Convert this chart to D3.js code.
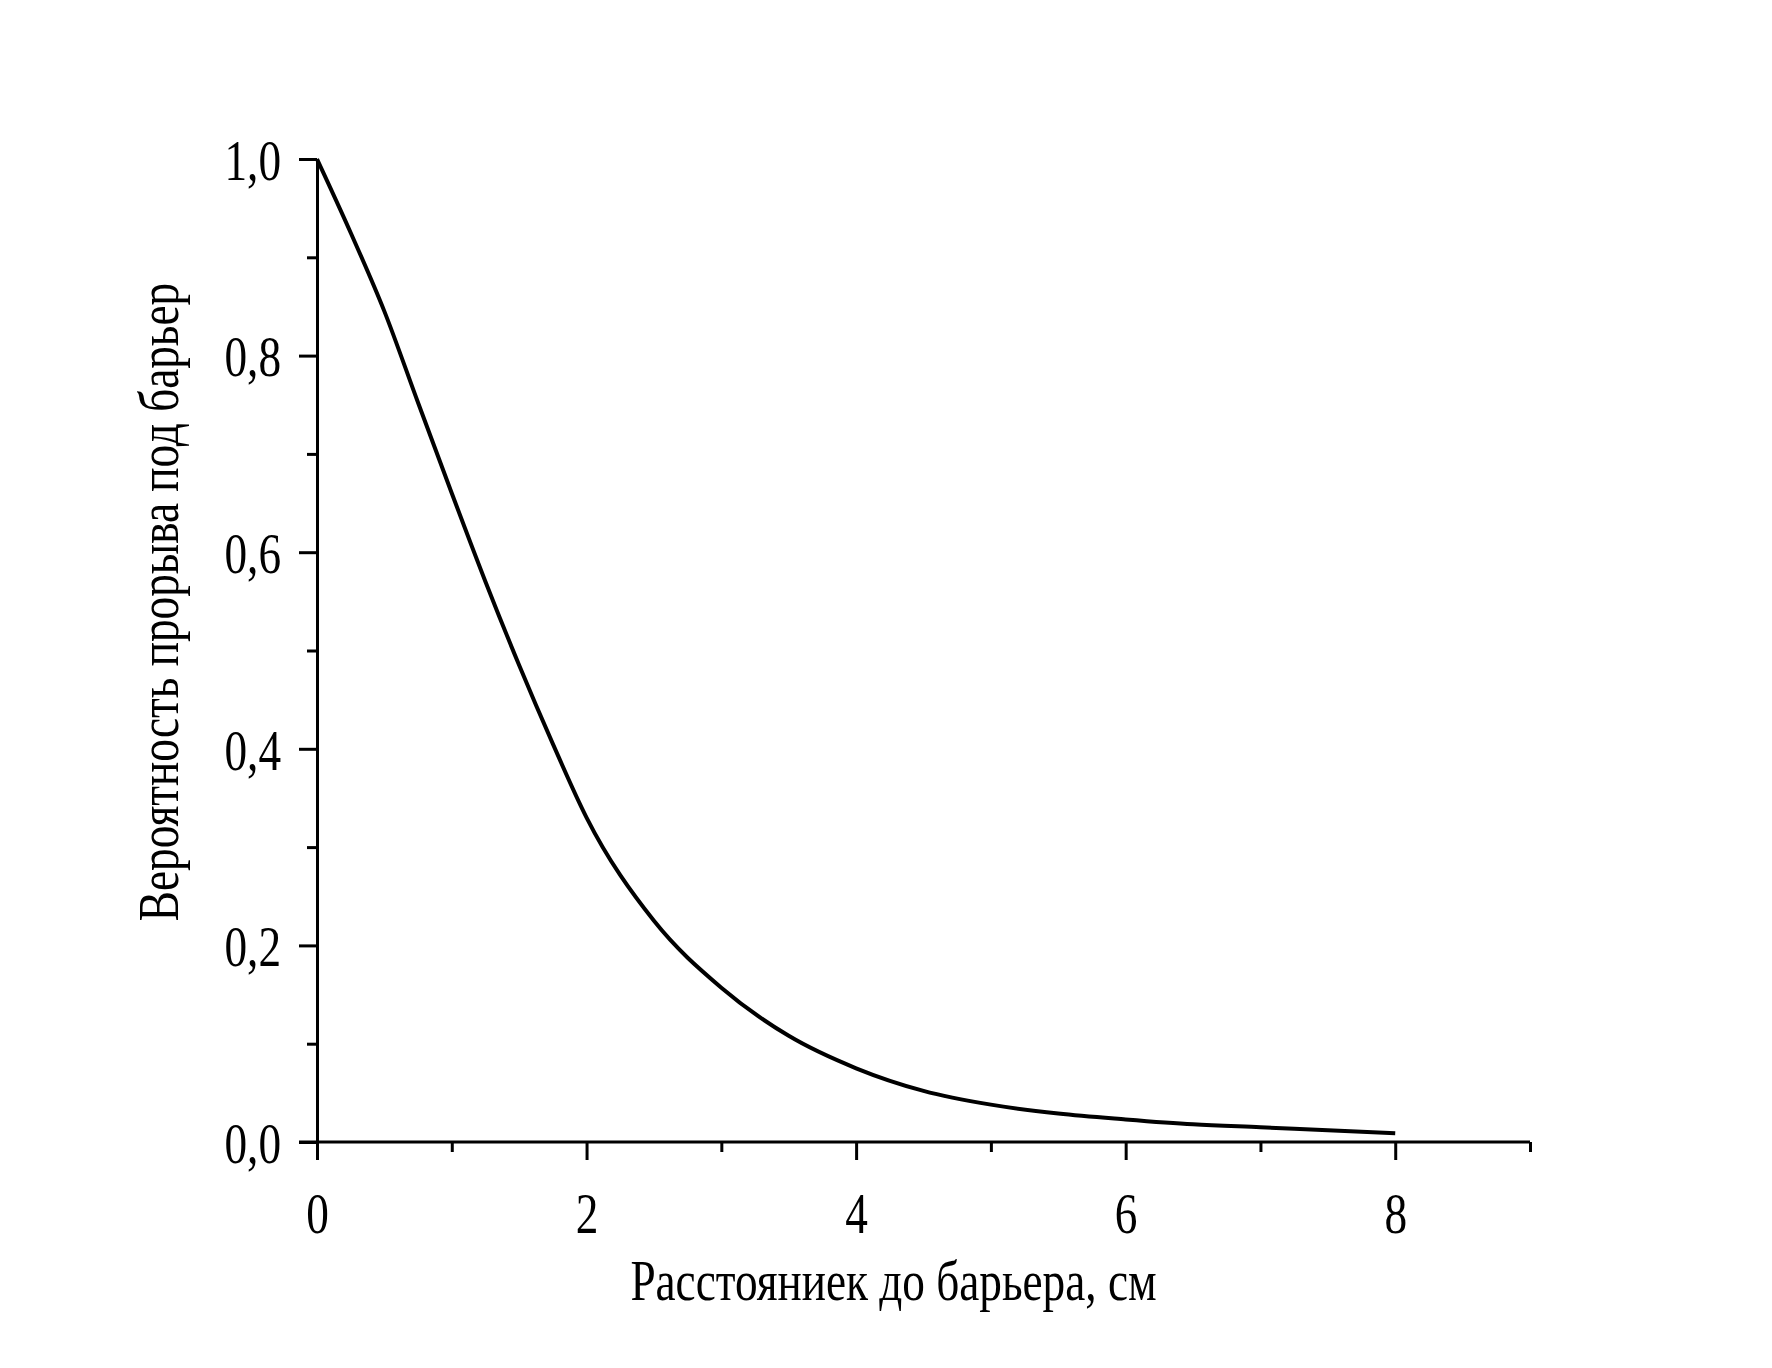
<!DOCTYPE html>
<html><head><meta charset="utf-8">
<script src="https://d3js.org/d3.v7.min.js"></script>
<style>body{margin:0;background:#fff}text{font-family:"Liberation Serif","Times New Roman",serif;fill:#000}
.sq{transform-box:fill-box;transform-origin:center;transform:scaleX(0.78)}</style>
</head><body><svg id="c" width="1772" height="1368"></svg>
<script>
const xVals=[0,0.25,0.5,0.75,1,1.25,1.5,1.75,2,2.5,3,3.5,4,4.5,5,5.5,6,6.5,7,7.5,8];
const yVals=[1.0,0.925,0.845,0.752,0.66,0.57,0.485,0.405,0.33,0.225,0.157,0.108,0.075,0.052,0.038,0.029,0.023,0.018,0.015,0.012,0.009];
const xTicks=[0,2,4,6,8];
const yTicks=[0,0.2,0.4,0.6,0.8,1.0];
const xLabel="Расстояниек до барьера, см";
const yLabel="Вероятность прорыва под барьер";

const svg=d3.select("#c");
const x=d3.scaleLinear().domain([0,9]).range([317,1530]);
const y=d3.scaleLinear().domain([0,1]).range([1142,159]);
const fmt=d=>d3.format(".1f")(d).replace(".",",");

const xa=svg.append("g").attr("transform","translate(0,1142)")
 .call(d3.axisBottom(x).tickValues(d3.range(0,10,1)).tickSize(16).tickSizeOuter(0).tickFormat(d=>xTicks.includes(d)?d:""));
xa.selectAll(".tick line").attr("y2",d=>xTicks.includes(d)?18:10);
xa.select(".domain").attr("d","M"+(x(0)-18)+",0H"+x(9));
const ya=svg.append("g").attr("transform","translate(317,0)")
 .call(d3.axisLeft(y).tickValues(d3.range(0,11).map(i=>i/10)).tickSize(16).tickSizeOuter(0)
 .tickFormat(d=>yTicks.some(t=>Math.abs(t-d)<1e-9)?fmt(d):""));
ya.selectAll(".tick line").attr("x2",(d,i)=>i%2==0?-18:-10);
[xa,ya].forEach(g=>{g.selectAll("path,line").attr("stroke","#000").attr("stroke-width",3);
 g.selectAll("text").style("font-size","58px").attr("font-family","Liberation Serif").attr("class","sq");});
xa.selectAll("text").attr("dy","1.25em");
ya.selectAll("text").attr("x",-28).attr("dy","0.35em");

svg.append("path").datum(xVals.map((v,i)=>[v,yVals[i]]))
 .attr("d",d3.line().x(d=>x(d[0])).y(d=>y(d[1])).curve(d3.curveMonotoneX))
 .attr("fill","none").attr("stroke","#000").attr("stroke-width",4);

svg.append("text").attr("class","sq").attr("x",(x(0)+x(9))/2-30).attr("y",1300).attr("text-anchor","middle")
 .style("font-size","58px").text(xLabel);
svg.append("g").attr("transform","translate(178,602) rotate(-90)")
 .append("text").attr("class","sq").attr("text-anchor","middle").style("font-size","58px").text(yLabel);
</script></body></html>
